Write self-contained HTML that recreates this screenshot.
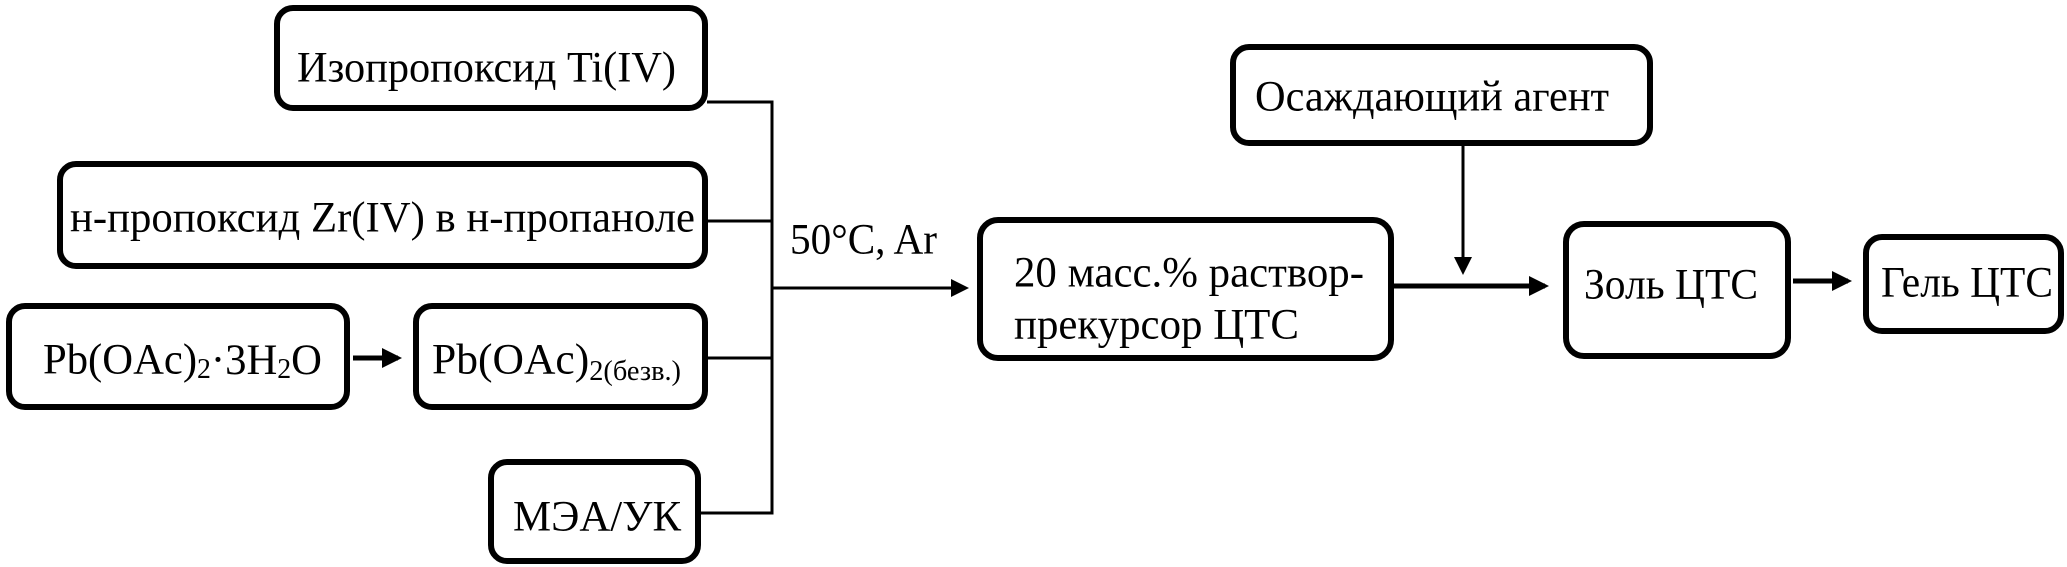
<!DOCTYPE html>
<html><head><meta charset="utf-8"><style>html,body{margin:0;padding:0;background:#fff}svg{display:block}</style></head>
<body>
<svg width="2067" height="567" viewBox="0 0 2067 567" xmlns="http://www.w3.org/2000/svg" font-family="'Liberation Serif', serif" font-size="43" fill="#000">
<defs>
<marker id="a" markerWidth="4" markerHeight="4" refX="3.2" refY="2" orient="auto" markerUnits="strokeWidth"><path d="M0,0 L4,2 L0,4 z" fill="#000"/></marker>
<marker id="b" markerWidth="6" markerHeight="6" refX="5" refY="3" orient="auto" markerUnits="strokeWidth"><path d="M0,0 L6,3 L0,6 z" fill="#000"/></marker>
</defs>
<g fill="none" stroke="#000" stroke-width="6">
<rect x="277" y="8" width="428" height="100" rx="16"/>
<rect x="60" y="164" width="645" height="102" rx="16"/>
<rect x="9" y="306" width="338" height="101" rx="16"/>
<rect x="416" y="306" width="289" height="101" rx="16"/>
<rect x="491" y="462" width="207" height="99" rx="16"/>
<rect x="980" y="220" width="411" height="138" rx="18"/>
<rect x="1233" y="47" width="417" height="96" rx="16"/>
<rect x="1566" y="224" width="222" height="132" rx="18"/>
<rect x="1866" y="237" width="195" height="94" rx="16"/>
</g>
<g fill="none" stroke="#000" stroke-width="3">
<path d="M707,102 H772 V513 H700 M707,221 H772 M707,358 H772"/>
<path d="M772,288 H966" marker-end="url(#b)"/>
<path d="M1463,145 V272" marker-end="url(#b)"/>
</g>
<g fill="none" stroke="#000" stroke-width="5">
<path d="M353,358 H398" marker-end="url(#a)"/>
<path d="M1393,286 H1545" marker-end="url(#a)"/>
<path d="M1793,281 H1848" marker-end="url(#a)"/>
</g>
<g dominant-baseline="central">
<text x="297" y="68" textLength="379" lengthAdjust="spacingAndGlyphs">Изопропоксид Ti(IV)</text>
<text x="70" y="218" textLength="625" lengthAdjust="spacingAndGlyphs">н-пропоксид Zr(IV) в н-пропаноле</text>
<text x="43" y="360" textLength="279" lengthAdjust="spacingAndGlyphs">Pb(OAc)<tspan font-size="28" dy="9">2</tspan><tspan dy="-9">·3H</tspan><tspan font-size="28" dy="9">2</tspan><tspan dy="-9">O</tspan></text>
<text x="432" y="360" textLength="249" lengthAdjust="spacingAndGlyphs">Pb(OAc)<tspan font-size="28" dy="11">2(безв.)</tspan></text>
<text x="513" y="517" textLength="168" lengthAdjust="spacingAndGlyphs">МЭА/УК</text>
<text x="790" y="240" textLength="147" lengthAdjust="spacingAndGlyphs">50°C, Ar</text>
<text x="1014" y="273" textLength="350" lengthAdjust="spacingAndGlyphs">20 масс.% раствор-</text>
<text x="1014" y="325" textLength="285" lengthAdjust="spacingAndGlyphs">прекурсор ЦТС</text>
<text x="1255" y="97" textLength="354" lengthAdjust="spacingAndGlyphs">Осаждающий агент</text>
<text x="1584" y="285" textLength="174" lengthAdjust="spacingAndGlyphs">Золь ЦТС</text>
<text x="1881" y="283" textLength="172" lengthAdjust="spacingAndGlyphs">Гель ЦТС</text>
</g>
</svg>
</body></html>
